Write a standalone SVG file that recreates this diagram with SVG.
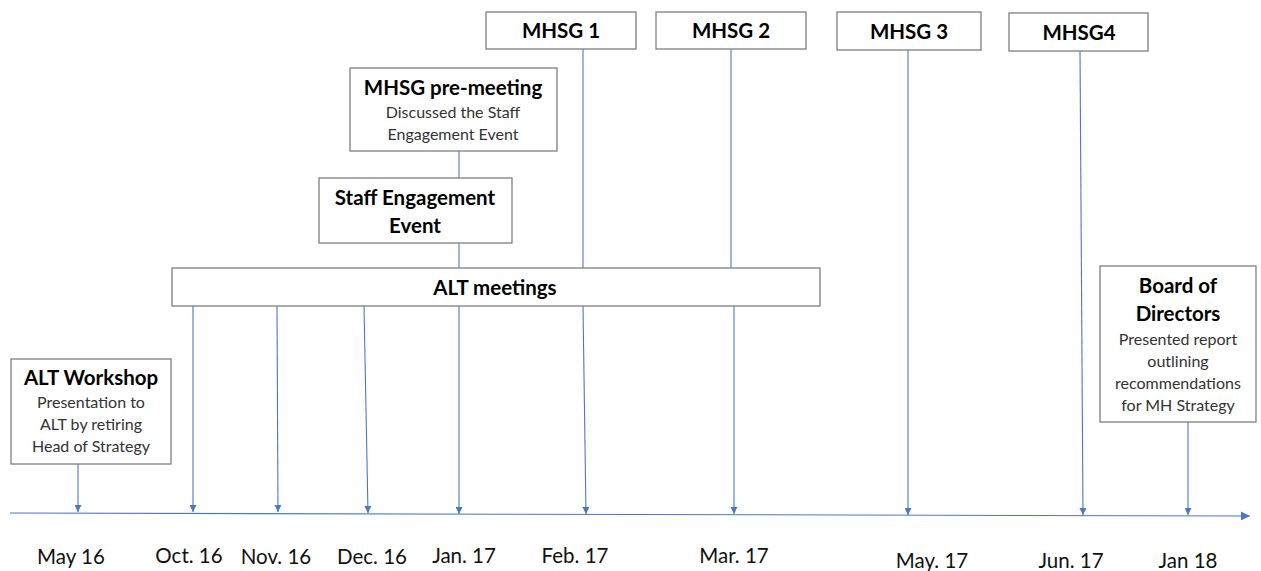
<svg xmlns="http://www.w3.org/2000/svg" width="1261" height="571" viewBox="0 0 1261 571">
<style>
.box{fill:#fff;stroke:#7f7f7f;stroke-width:1.3}
.t{font-family:Lato,"Liberation Sans",sans-serif;font-weight:bold;font-size:20.5px;fill:#000;text-anchor:middle}
.s{font-family:Lato,"Liberation Sans",sans-serif;font-size:16px;fill:#333;text-anchor:middle}
.d{font-family:Lato,"Liberation Sans",sans-serif;font-size:20.5px;fill:#111;text-anchor:middle}
.c{stroke:#4a78c8;stroke-width:1.1;fill:none}
.a{stroke:#4a78c8;stroke-width:1.1;fill:none;marker-end:url(#ah)}
</style>
<defs>
<marker id="ah" viewBox="0 0 10 10" refX="10" refY="5" markerWidth="7" markerHeight="7" markerUnits="userSpaceOnUse" orient="auto">
<path d="M0,0 L10,5 L0,10 z" fill="#4a78c8"/>
</marker>
<marker id="ah2" viewBox="0 0 10 10" refX="10" refY="5" markerWidth="9" markerHeight="9" markerUnits="userSpaceOnUse" orient="auto">
<path d="M0,0 L10,5 L0,10 z" fill="#4a78c8"/>
</marker>
</defs>
<rect width="1261" height="571" fill="#fff"/>
<g id="connectors">
<path class="c" d="M10,513 L1250,516" marker-end="url(#ah2)"/>
<path class="a" d="M78,464 L78,512"/>
<path class="a" d="M193,306 L193,512"/>
<path class="a" d="M277,306 L278,512"/>
<path class="a" d="M364,306 L368,513"/>
<path class="a" d="M459,306 L459,514"/>
<path class="a" d="M583,306 L586,514"/>
<path class="a" d="M734,306 L734,514"/>
<path class="a" d="M908,50 L908,515"/>
<path class="a" d="M1080,51 L1083,515"/>
<path class="a" d="M1188,422 L1188,515"/>
<path class="c" d="M459,151 L459,178"/>
<path class="c" d="M459,243 L459,268"/>
<path class="c" d="M583,49 L583,268"/>
<path class="c" d="M731,49 L731,268"/>
</g>
<g id="alt-workshop">
<rect class="box" x="11" y="359" width="160" height="105"/>
<text class="t" x="91" y="385">ALT Workshop</text>
<text class="s" x="91" y="408">Presentation to</text>
<text class="s" x="91" y="430">ALT by retiring</text>
<text class="s" x="91" y="452">Head of Strategy</text>
</g>
<g id="alt-meetings">
<rect class="box" x="172" y="268" width="648" height="38"/>
<text class="t" x="495" y="295">ALT meetings</text>
</g>
<g id="staff-engagement">
<rect class="box" x="319" y="178" width="193" height="65"/>
<text class="t" x="415" y="205">Staff Engagement</text>
<text class="t" x="415" y="233">Event</text>
</g>
<g id="mhsg-pre">
<rect class="box" x="350" y="68" width="207" height="83"/>
<text class="t" x="453" y="95">MHSG pre-meeting</text>
<text class="s" x="453" y="118">Discussed the Staff</text>
<text class="s" x="453" y="140">Engagement Event</text>
</g>
<g id="mhsg1">
<rect class="box" x="486" y="12" width="150" height="37"/>
<text class="t" x="561" y="38">MHSG 1</text>
</g>
<g id="mhsg2">
<rect class="box" x="656" y="12" width="150" height="37"/>
<text class="t" x="731" y="38">MHSG 2</text>
</g>
<g id="mhsg3">
<rect class="box" x="837" y="12" width="144" height="38"/>
<text class="t" x="909" y="39">MHSG 3</text>
</g>
<g id="mhsg4">
<rect class="box" x="1009" y="13" width="139" height="38"/>
<text class="t" x="1079" y="40">MHSG4</text>
</g>
<g id="board">
<rect class="box" x="1100" y="266" width="156" height="156"/>
<text class="t" x="1178" y="293">Board of</text>
<text class="t" x="1178" y="321">Directors</text>
<text class="s" x="1178" y="345">Presented report</text>
<text class="s" x="1178" y="367">outlining</text>
<text class="s" x="1178" y="389">recommendations</text>
<text class="s" x="1178" y="411">for MH Strategy</text>
</g>
<g id="dates">
<text class="d" x="71" y="564">May 16</text>
<text class="d" x="189" y="563">Oct. 16</text>
<text class="d" x="276" y="564">Nov. 16</text>
<text class="d" x="372" y="564">Dec. 16</text>
<text class="d" x="464" y="563">Jan. 17</text>
<text class="d" x="575" y="563">Feb. 17</text>
<text class="d" x="734" y="563">Mar. 17</text>
<text class="d" x="932" y="568">May. 17</text>
<text class="d" x="1071" y="568">Jun. 17</text>
<text class="d" x="1188" y="568">Jan 18</text>
</g>
</svg>
